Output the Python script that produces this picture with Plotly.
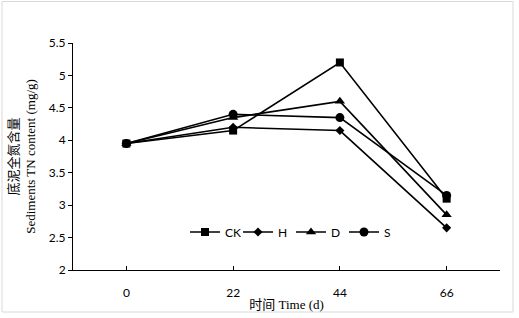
import plotly.graph_objects as go

categories = ["0", "22", "44", "66"]
ck = [3.95, 4.15, 5.2, 3.1]
h = [3.95, 4.2, 4.15, 2.65]
d = [3.95, 4.35, 4.6, 2.85]
s = [3.95, 4.4, 4.35, 3.15]
y_ticks = [2, 2.5, 3, 3.5, 4, 4.5, 5, 5.5]

xpos = list(range(len(categories)))

series = [
    ("S", s, "circle", 9, 4),
    ("D", d, "triangle-up", 9, 3),
    ("H", h, "diamond", 7, 2),
    ("CK", ck, "square", 8, 1),
]

fig = go.Figure()
for name, vals, sym, size, rank in series:
    fig.add_trace(go.Scatter(
        x=xpos, y=vals, name=name, mode="lines+markers",
        line=dict(color="black", width=1.6),
        marker=dict(symbol=sym, size=size, color="black"),
        legendrank=rank,
    ))

L, R, T, B = 73, 19, 43, 48
W, H = 519, 318
pw, ph = W - L - R, H - T - B

def px(xp):
    return (xp - L) / pw

def py(yp):
    return (H - B - yp) / ph

fig.update_layout(
    width=W, height=H,
    margin=dict(l=L, r=R, t=T, b=B, autoexpand=False),
    paper_bgcolor="white", plot_bgcolor="white",
    font=dict(family="Lato, Liberation Sans, sans-serif", size=12, color="black"),
    showlegend=True,
    legend=dict(
        orientation="h", x=px(185), y=py(232), xanchor="left", yanchor="middle",
        bgcolor="rgba(0,0,0,0)", font=dict(size=12),
        entrywidth=8, entrywidthmode="pixels", itemwidth=30,
    ),
    xaxis=dict(
        range=[-0.5, 3.5], tickvals=xpos + [3.5], ticktext=categories + [""],
        showgrid=False, zeroline=False, showline=True, linecolor="black", linewidth=1,
        ticks="inside", ticklen=4, tickcolor="black", ticklabelstandoff=12,
        automargin=False,
        title=dict(text="时间 Time (d)", standoff=0,
                   font=dict(family="Liberation Serif, Noto Sans CJK SC, serif", size=13)),
    ),
    yaxis=dict(
        range=[2, 5.5], tickvals=y_ticks, ticktext=[f"{v:g}" for v in y_ticks],
        showgrid=False, zeroline=False, showline=True, linecolor="black", linewidth=1,
        ticks="outside", ticklen=4, tickcolor="black", automargin=False,
        title=dict(text="底泥全氮含量<br>Sediments TN content (mg/g)", standoff=10,
                   font=dict(family="Liberation Serif, Noto Sans CJK SC, serif", size=13)),
    ),
    shapes=[dict(
        type="rect", xref="paper", yref="paper",
        x0=px(2), x1=px(513), y0=py(312), y1=py(1.5),
        line=dict(color="#d9d9d9", width=1), layer="below",
    )],
)

fig.write_html(
    "out.html",
    config={"displayModeBar": False},
    post_script="document.body.style.margin='0';document.body.style.overflow='hidden';",
)
